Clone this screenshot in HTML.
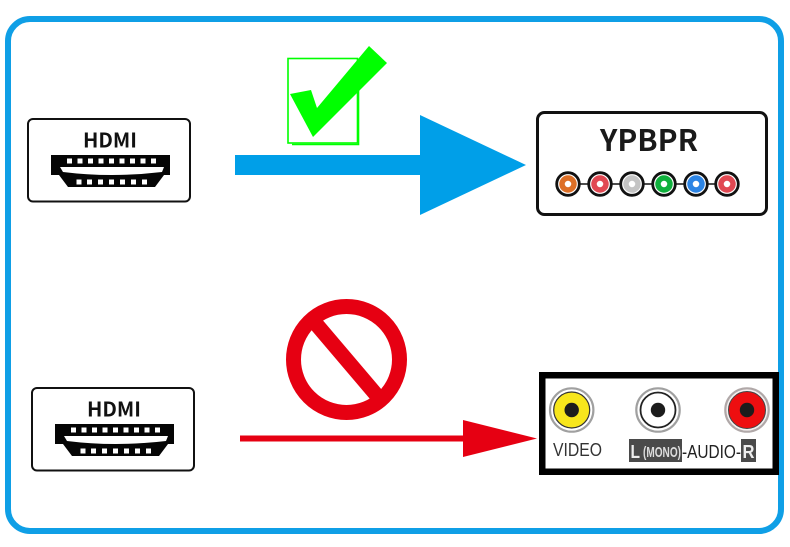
<!DOCTYPE html>
<html>
<head>
<meta charset="utf-8">
<style>
html,body{margin:0;padding:0;background:#fff;width:790px;height:547px;overflow:hidden}
svg{display:block}
text{font-family:"Liberation Sans",sans-serif}
.n{font-family:"Noto Sans CJK JP","Liberation Sans",sans-serif;font-weight:700}
.soft{filter:blur(.35px)}
</style>
</head>
<body>
<svg width="790" height="547" viewBox="0 0 790 547" xmlns="http://www.w3.org/2000/svg">
<defs>
<g id="hdmi">
  <rect x="28" y="119" width="162" height="82.500" rx="5" fill="#fff" stroke="#111" stroke-width="2"/>
  <text class="n" x="110" y="147.500" font-size="20" text-anchor="middle" fill="#111" textLength="54" lengthAdjust="spacingAndGlyphs">HDMI</text>
  <polygon points="51,155 170,155 170,175 164,175 155,187 68,187 59,175 51,175" fill="#050505"/>
  <path d="M60,167 L164,167 L162,172 Q111,178 63,172 Z" fill="#fff"/>
  <g fill="#fff">
    <rect x="67" y="158.500" width="5" height="5"/><rect x="77.500" y="158.500" width="5" height="5"/><rect x="88" y="158.500" width="5" height="5"/><rect x="98.500" y="158.500" width="5" height="5"/><rect x="109" y="158.500" width="5" height="5"/><rect x="119.500" y="158.500" width="5" height="5"/><rect x="130" y="158.500" width="5" height="5"/><rect x="140.500" y="158.500" width="5" height="5"/><rect x="151" y="158.500" width="5" height="5"/>
    <rect x="76.500" y="179.500" width="5" height="5"/><rect x="87" y="179.500" width="5" height="5"/><rect x="98" y="179.500" width="5" height="5"/><rect x="109" y="179.500" width="5" height="5"/><rect x="120" y="179.500" width="5" height="5"/><rect x="131" y="179.500" width="5" height="5"/><rect x="142" y="179.500" width="5" height="5"/>
  </g>
</g>
</defs>

<rect x="8" y="19" width="773" height="512" rx="22" fill="#fff" stroke="#0f9fe6" stroke-width="6"/>

<g class="soft">
<use href="#hdmi"/>
<use href="#hdmi" transform="translate(4,269)"/>
</g>

<!-- check -->
<rect x="288" y="58.500" width="69.500" height="84.500" fill="none" stroke="#00ff00" stroke-width="1.600"/>
<path d="M292,144.500 H358.500 V90" fill="none" stroke="#00ff00" stroke-width="1.600"/>
<polygon points="290,94 311,90 317,108 369,46 387,63 313,137" fill="#00ff00"/>

<!-- blue arrow -->
<rect x="235" y="155" width="186" height="20" fill="#009fe8"/>
<polygon points="420,115 526,165 420,215" fill="#009fe8"/>

<!-- YPBPR -->
<g class="soft">
<rect x="537.500" y="112.500" width="229" height="102" rx="7" fill="#fff" stroke="#111" stroke-width="3"/>
<text class="n" x="649" y="151" font-size="30" text-anchor="middle" fill="#1a1a1a" textLength="98" lengthAdjust="spacingAndGlyphs">YPBPR</text>
<line x1="568" y1="184" x2="727" y2="184" stroke="#111" stroke-width="1.500"/>
<g stroke="#111" stroke-width="2.800" fill="#fff">
  <circle cx="568" cy="184" r="11.300"/>
  <circle cx="600" cy="184" r="11.300"/>
  <circle cx="632" cy="184" r="11.300"/>
  <circle cx="664" cy="184" r="11.300"/>
  <circle cx="696" cy="184" r="11.300"/>
  <circle cx="727" cy="184" r="11.300"/>
</g>
<g fill="none" stroke-width="5.500">
  <circle cx="568" cy="184" r="6" stroke="#dd6f26"/>
  <circle cx="600" cy="184" r="6" stroke="#e14852"/>
  <circle cx="632" cy="184" r="6" stroke="#c4c4c4"/>
  <circle cx="664" cy="184" r="6" stroke="#0fb03c"/>
  <circle cx="696" cy="184" r="6" stroke="#2c84e4"/>
  <circle cx="727" cy="184" r="6" stroke="#e14852"/>
</g>
</g>

<!-- prohibition -->
<circle cx="346.500" cy="359.500" r="53" fill="#fff" stroke="#e60012" stroke-width="15"/>
<line x1="314" y1="321.500" x2="379" y2="398" stroke="#e60012" stroke-width="15"/>

<!-- red arrow -->
<rect x="240" y="435.500" width="225" height="6" fill="#e60012"/>
<polygon points="463,420 537,438.500 463,457" fill="#e60012"/>

<!-- AV -->
<rect x="542.250" y="375.250" width="233.500" height="96.500" fill="#fff" stroke="#000" stroke-width="6.500"/>
<g class="soft">
<circle cx="571.700" cy="410" r="21.700" fill="#fff" stroke="#a0a0a0" stroke-width="2.200"/>
<circle cx="571.700" cy="410" r="18" fill="#f7e61c" stroke="#333" stroke-width="1.200"/>
<circle cx="571.700" cy="410" r="7.200" fill="#1c1c1c"/>
<circle cx="658" cy="410" r="21.700" fill="#fff" stroke="#a0a0a0" stroke-width="2.200"/>
<circle cx="658" cy="410" r="17.500" fill="#fff" stroke="#222" stroke-width="1.800"/>
<circle cx="658" cy="410" r="7.200" fill="#1c1c1c"/>
<circle cx="747" cy="410" r="21.700" fill="#f4efef" stroke="#b0a8a8" stroke-width="2.200"/>
<circle cx="747" cy="410" r="18.500" fill="#ee0e10" stroke="#444" stroke-width="1"/>
<circle cx="747" cy="410" r="7.200" fill="#1c1c1c"/>

<text x="553" y="456" font-size="18" fill="#333" textLength="49" lengthAdjust="spacingAndGlyphs">VIDEO</text>
<rect x="629" y="439" width="53" height="23" fill="#4a4a4a"/>
<text x="630.500" y="458" font-size="18" font-weight="700" fill="#eee" textLength="9.500" lengthAdjust="spacingAndGlyphs">L</text>
<text x="643" y="457" font-size="15" font-weight="700" fill="#ddd" textLength="38" lengthAdjust="spacingAndGlyphs">(MONO)</text>
<text x="682" y="458" font-size="18" fill="#222" textLength="59" lengthAdjust="spacingAndGlyphs">-AUDIO-</text>
<rect x="741" y="439" width="15" height="23" fill="#4a4a4a"/>
<text x="742.500" y="458" font-size="18" font-weight="700" fill="#eee" textLength="12" lengthAdjust="spacingAndGlyphs">R</text>
</g>
</svg>
</body>
</html>
